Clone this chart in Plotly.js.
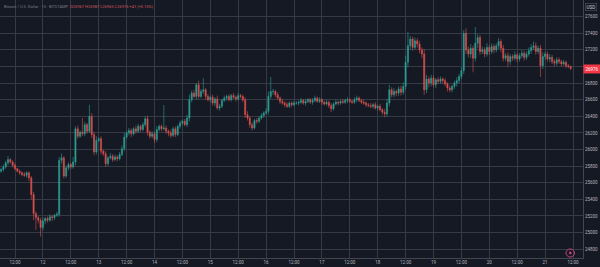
<!DOCTYPE html>
<html><head><meta charset="utf-8">
<script src="https://cdn.plot.ly/plotly-3.0.1.min.js"></script>
<style>html,body{margin:0;padding:0;background:#151924;overflow:hidden;}#chart{width:600px;height:267px;}</style>
</head><body><div id="chart"></div>
<script>
// Hourly candles, BTC/USD, starting 2023-09-11 06:00
const firstOpen = 25740;
const closes = [
25760,25790,25840,25880,25850,25810,25770,25740,25720,25700,25690,25720,25660,
25460,25230,25180,25150,25060,25140,25170,25150,25190,25180,25210,25220,
25870,25900,25680,25780,25820,25790,25850,
26250,26160,26210,26190,26300,26220,26400,26180,25970,
26110,26130,25980,25950,25830,25900,25920,25880,25910,25890,25940,26010,
26150,26200,26230,26190,26250,26220,26280,26240,26300,26370,
26210,26160,26190,26120,26240,26280,26250,26260,26220,26200,26170,26250,26180,26280,26320,26340,26300,26380,
26600,26680,26640,26780,26640,26700,26720,26640,26600,26630,26560,26610,26500,26520,26590,26620,26640,26600,26650,26630,26610,26650,26640,26600,
26420,26380,26300,26260,26350,26340,26380,26410,26440,26460,26640,26700,26700,26660,26620,26580,26560,26540,26520,26560,26540,26560,26560,
26570,26590,26560,26580,26600,26570,26590,26620,26580,26600,26570,26550,26570,26530,26490,
26550,26570,26560,26580,26570,26590,26600,26580,26570,
26600,26620,26590,26570,26560,26540,
26530,26520,26540,26500,26520,26480,26450,26430,
26560,26720,26660,26700,26680,26730,26690,26760,
27050,27250,27330,27230,27310,27270,27200,27150,
26720,26850,26800,26860,26780,26840,26820,26850,
26830,26790,26740,26720,26760,26800,26830,26880,26950,
27400,27200,27150,27220,27100,27280,27350,27180,
27200,27150,27230,27180,27240,27200,27250,27300,27220,
27100,27130,27060,27120,
27100,27140,27090,27130,27160,27110,27150,27190,27230,
27250,27180,27220,27010,
27120,27150,27090,27110,27060,27040,27080,
27060,27030,27050,27010,27000,26976
];
const wickUp = [
20,30,25,40,15,20,25,10,20,15,30,20,15,20,30,25,20,30,40,20,
25,30,20,15,30,40,50,20,30,25,20,60,30,40,20,170,30,20,140,40,
30,50,20,30,20,30,20,40,25,30,20,30,40,50,20,30,25,20,40,30,
20,30,30,40,20,30,25,40,20,20,276,30,20,40,25,30,20,30,20,30,
40,60,30,40,20,50,30,140,20,30,20,30,20,40,30,20,30,20,30,20,
30,20,30,20,20,30,40,20,30,20,30,20,30,20,40,60,174,30,20,30,
20,30,20,30,20,20,30,20,20,30,20,30,20,20,30,30,20,30,20,20,
30,20,30,20,30,20,20,30,20,30,20,20,30,30,20,20,30,20,20,30,
20,30,20,30,20,40,50,60,30,40,20,30,40,50,80,165,40,30,40,30,
40,30,60,50,30,40,30,20,30,30,20,30,20,30,20,30,40,30,40,40,
60,40,50,30,196,40,30,40,30,50,30,40,30,30,43,30,40,30,40,30,
30,40,20,30,40,30,30,40,40,50,40,30,40,50,30,30,40,30,30,30,
30,20,30,20,20,10
];
const wickDown = [
20,25,20,30,20,25,20,15,25,20,20,30,40,60,80,150,40,110,30,40,
30,20,40,30,20,30,40,30,20,30,25,20,40,30,20,30,30,30,20,40,
40,30,20,40,30,40,30,20,30,20,30,20,20,30,20,30,40,20,30,20,
30,20,30,40,30,20,40,30,20,30,20,30,40,30,20,30,20,30,20,20,
30,40,30,20,40,30,20,30,40,20,30,30,40,20,30,20,20,30,20,20,
20,30,20,20,30,40,30,40,30,20,30,20,20,30,20,40,30,40,30,20,
30,20,30,20,20,30,20,20,30,20,20,30,20,20,30,20,20,20,30,20,
20,30,40,20,20,30,20,20,20,30,20,20,20,30,20,20,20,30,20,20,
30,20,30,20,30,40,30,40,30,30,40,30,40,30,40,60,50,40,30,40,
40,50,60,40,50,40,30,40,30,30,40,30,40,30,30,30,40,30,30,40,
50,40,50,170,40,60,40,30,40,30,40,30,40,30,40,50,40,30,70,40,
30,30,40,30,30,40,30,30,40,30,40,30,136,40,40,30,40,30,40,30,
30,30,20,30,20,20
];
const tickTimes = ['2023-09-11 12:00','2023-09-12 00:00','2023-09-12 12:00','2023-09-13 00:00','2023-09-13 12:00',
'2023-09-14 00:00','2023-09-14 12:00','2023-09-15 00:00','2023-09-15 12:00','2023-09-16 00:00','2023-09-16 12:00',
'2023-09-17 00:00','2023-09-17 12:00','2023-09-18 00:00','2023-09-18 12:00','2023-09-19 00:00','2023-09-19 12:00',
'2023-09-20 00:00','2023-09-20 12:00','2023-09-21 00:00','2023-09-21 12:00'];
const tickLabels = ['12:00','12','12:00','13','12:00','14','12:00','15','12:00','16','12:00','17','12:00','18','12:00','19','12:00','20','12:00','21','12:00'];
const priceTicks = [24800,25000,25200,25400,25600,25800,26000,26200,26400,26600,26800,27000,27200,27400,27600];
const priceLabels = ['24800','25000','25200','25400','25600','25800','26000','26200','26400','26600','26800','','27200','27400','27600'];
const lastPrice = 26976;

const base = Date.UTC(2023,8,11,6,0);
function fmt(ms){return new Date(ms).toISOString().slice(0,16).replace('T',' ');}
const times=[], open=[], high=[], low=[];
for(let i=0;i<closes.length;i++){
  times.push(fmt(base+i*3600000));
  const o = i===0 ? firstOpen : closes[i-1];
  open.push(o);
  high.push(Math.max(o,closes[i])+wickUp[i]);
  low.push(Math.min(o,closes[i])-wickDown[i]);
}
const grid='#363a45', txt='#b2b5be';
const trace={type:'candlestick',x:times,open:open,high:high,low:low,close:closes,
  increasing:{line:{color:'#2e9e93',width:0.6},fillcolor:'#2e9e93'},
  decreasing:{line:{color:'#d9504e',width:0.6},fillcolor:'#d9504e'},
  whiskerwidth:0,hoverinfo:'none'};
const layout={
  width:600,height:267,margin:{l:0,r:17,t:0,b:9,pad:0},
  paper_bgcolor:'#151924',plot_bgcolor:'#151924',showlegend:false,
  xaxis:{type:'date',range:['2023-09-11 05:33','2023-09-21 16:18'],tickmode:'array',tickvals:tickTimes,ticktext:tickLabels,
    tickfont:{family:'Roboto, sans-serif',size:4.5,color:txt},tickangle:0,showgrid:true,gridcolor:grid,gridwidth:1,
    zeroline:false,showline:true,linecolor:'#434651',linewidth:1,ticks:'',rangeslider:{visible:false},fixedrange:true},
  yaxis:{side:'right',range:[24694,27801],tickmode:'array',tickvals:priceTicks,ticktext:priceLabels,
    tickfont:{family:'Roboto, sans-serif',size:4.5,color:txt},showgrid:true,gridcolor:grid,gridwidth:1,
    zeroline:false,showline:true,linecolor:'#434651',linewidth:1,ticks:'',fixedrange:true},
  annotations:[
    {xref:'paper',yref:'paper',x:0.004,y:0.973,xanchor:'left',yanchor:'middle',showarrow:false,
     text:'Bitcoin / U.S. Dollar · 15 · BITSTAMP  <span style="color:#d0585a">O26967 H26987 L26965 C26976 +41 (+0.15%)</span>',
     font:{family:'Roboto, sans-serif',size:4,color:'#787b86'}},
    {xref:'paper',yref:'paper',x:591/583,y:0.972,xanchor:'center',yanchor:'middle',showarrow:false,text:'USD',
     font:{family:'Roboto, sans-serif',size:4.5,color:'#d1d4dc'},bordercolor:'#50535e',borderwidth:0.6,borderpad:1},
    {xref:'paper',yref:'y',x:591.5/583,y:lastPrice,xanchor:'center',yanchor:'middle',showarrow:false,text:String(lastPrice),
     font:{family:'Roboto, sans-serif',size:4.5,color:'#ffffff'},bgcolor:'#f23645',borderpad:1.5}
  ],
  shapes:[
    {type:'circle',xref:'paper',yref:'paper',x0:566/583,x1:574.5/583,y0:0.004,y1:0.035,line:{color:'#c2447e',width:1}},
    {type:'circle',xref:'paper',yref:'paper',x0:569/583,x1:571.5/583,y0:0.014,y1:0.025,fillcolor:'#c2447e',line:{width:0}}
  ]
};
Plotly.newPlot('chart',[trace],layout,{displayModeBar:false,staticPlot:true});
</script></body></html>
